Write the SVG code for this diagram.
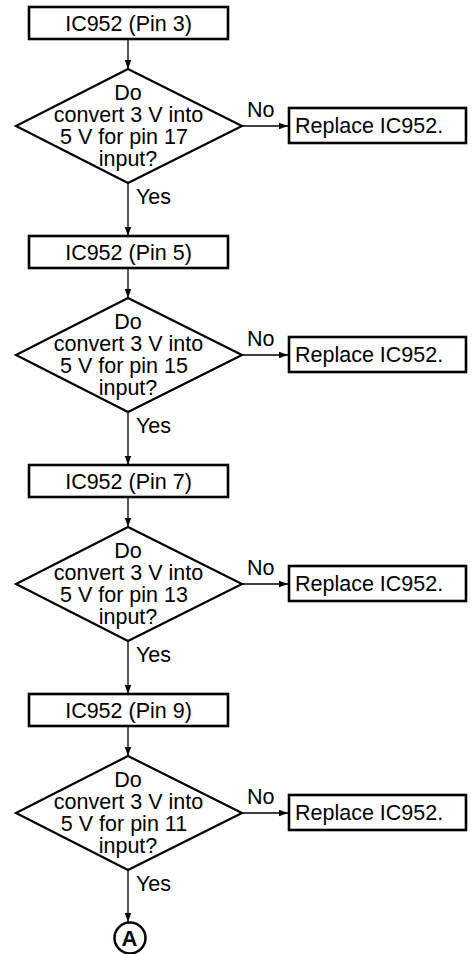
<svg xmlns="http://www.w3.org/2000/svg" width="472" height="954" viewBox="0 0 472 954">
<style>
.box{fill:#fff;stroke:#000;stroke-width:2.6}
.dia{fill:#fff;stroke:#000;stroke-width:2.2}
.t{font-family:"Liberation Sans",Arial,sans-serif;font-size:21.5px;fill:#000}
.c{text-anchor:middle}
.ln{stroke:#000;stroke-width:1.3;fill:none;marker-end:url(#ah)}
</style>
<defs>
<marker id="ah" markerWidth="10" markerHeight="8" refX="9" refY="4" orient="auto" markerUnits="userSpaceOnUse">
<path d="M0,0.8 L9,4 L0,7.2 Z" fill="#000"/>
</marker>
</defs>
<g id="connectors">
<line class="ln" x1="128" y1="40" x2="128" y2="69"/>
<line class="ln" x1="128" y1="183" x2="128" y2="236"/>
<line class="ln" x1="243" y1="126" x2="288" y2="126"/>
<line class="ln" x1="128" y1="269" x2="128" y2="298"/>
<line class="ln" x1="128" y1="412" x2="128" y2="465"/>
<line class="ln" x1="243" y1="355" x2="288" y2="355"/>
<line class="ln" x1="128" y1="498" x2="128" y2="527"/>
<line class="ln" x1="128" y1="641" x2="128" y2="694"/>
<line class="ln" x1="243" y1="584" x2="288" y2="584"/>
<line class="ln" x1="128" y1="727" x2="128" y2="756"/>
<line class="ln" x1="128" y1="870" x2="128" y2="922"/>
<line class="ln" x1="243" y1="813" x2="288" y2="813"/>
<text class="t" x="136" y="204">Yes</text>
<text class="t" x="247" y="117">No</text>
<text class="t" x="136" y="433">Yes</text>
<text class="t" x="247" y="346">No</text>
<text class="t" x="136" y="662">Yes</text>
<text class="t" x="247" y="575">No</text>
<text class="t" x="136" y="891">Yes</text>
<text class="t" x="247" y="804">No</text>
</g>
<g id="box1"><rect class="box" x="29" y="7" width="199" height="32"/><text class="t c" x="128.5" y="30.5">IC952 (Pin 3)</text></g>
<g id="dia1"><polygon class="dia" points="128,69 242,126 128,183 16,126"/>
<text class="t c" x="128" y="100">Do</text><text class="t c" x="128.5" y="122">convert 3 V into</text><text class="t c" x="124" y="144">5 V for pin 17</text><text class="t c" x="128" y="166">input?</text></g>
<g id="rep1"><rect class="box" x="289" y="108" width="177" height="35"/><text class="t" x="295" y="133">Replace IC952.</text></g>

<g id="box2"><rect class="box" x="29" y="236" width="199" height="32"/><text class="t c" x="128.5" y="259.5">IC952 (Pin 5)</text></g>
<g id="dia2"><polygon class="dia" points="128,298 242,355 128,412 16,355"/>
<text class="t c" x="128" y="329">Do</text><text class="t c" x="128.5" y="351">convert 3 V into</text><text class="t c" x="124" y="373">5 V for pin 15</text><text class="t c" x="128" y="395">input?</text></g>
<g id="rep2"><rect class="box" x="289" y="337" width="177" height="35"/><text class="t" x="295" y="362">Replace IC952.</text></g>

<g id="box3"><rect class="box" x="29" y="465" width="199" height="32"/><text class="t c" x="128.5" y="488.5">IC952 (Pin 7)</text></g>
<g id="dia3"><polygon class="dia" points="128,527 242,584 128,641 16,584"/>
<text class="t c" x="128" y="558">Do</text><text class="t c" x="128.5" y="580">convert 3 V into</text><text class="t c" x="124" y="602">5 V for pin 13</text><text class="t c" x="128" y="624">input?</text></g>
<g id="rep3"><rect class="box" x="289" y="566" width="177" height="35"/><text class="t" x="295" y="591">Replace IC952.</text></g>

<g id="box4"><rect class="box" x="29" y="694" width="199" height="32"/><text class="t c" x="128.5" y="717.5">IC952 (Pin 9)</text></g>
<g id="dia4"><polygon class="dia" points="128,756 242,813 128,870 16,813"/>
<text class="t c" x="128" y="787">Do</text><text class="t c" x="128.5" y="809">convert 3 V into</text><text class="t c" x="124" y="831">5 V for pin 11</text><text class="t c" x="128" y="853">input?</text></g>
<g id="rep4"><rect class="box" x="289" y="795" width="177" height="35"/><text class="t" x="295" y="820">Replace IC952.</text></g>

<g id="connA"><circle cx="130" cy="938" r="15.5" fill="#fff" stroke="#000" stroke-width="2.5"/><text class="t c" x="129.5" y="946" style="font-weight:bold;font-size:22px">A</text></g>
</svg>
